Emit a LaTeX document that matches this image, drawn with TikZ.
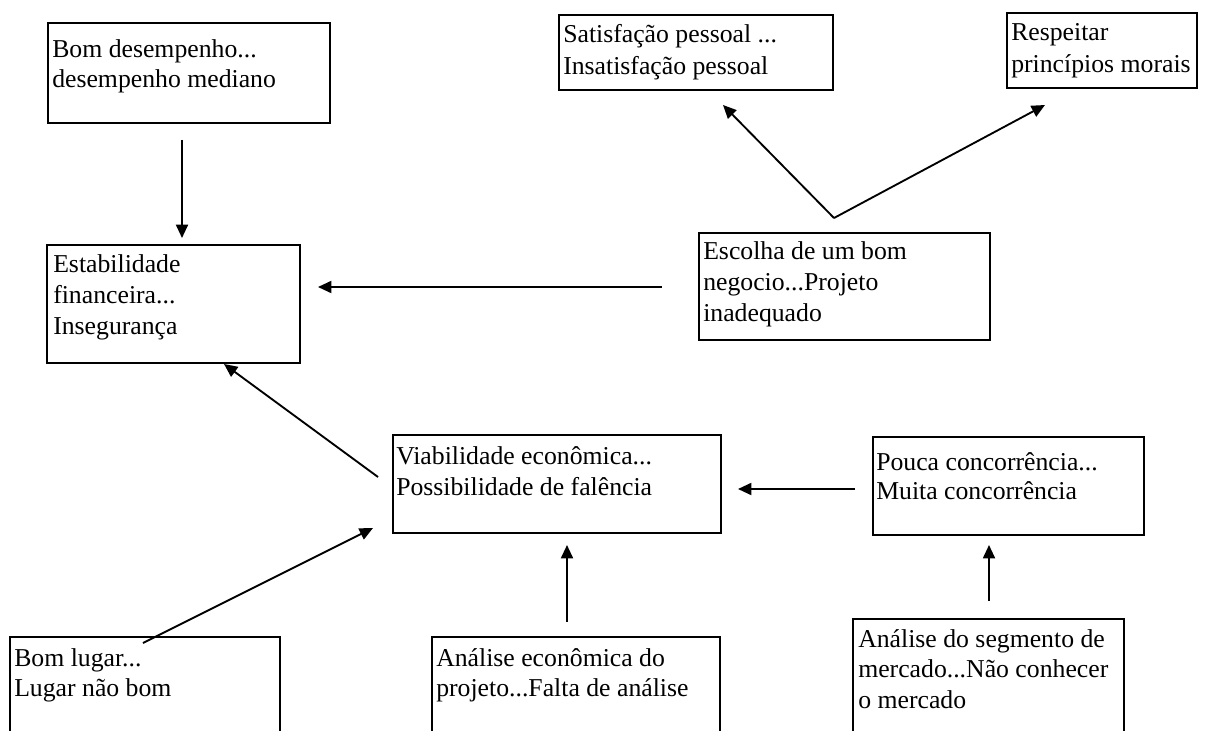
\documentclass[tikz,border=0pt]{standalone}
\usepackage{fontspec}
\setmainfont{Liberation Serif}
\usetikzlibrary{arrows.meta,fit}
\newcommand\mltext[2]{\parbox[t]{9cm}{\raggedright\setlength\baselineskip{#1}#2}}
\tikzset{
  box/.style={draw, line width=1.6pt, inner sep=0pt},
  lbl/.style={anchor=base west, inner sep=0pt, font=\fontsize{19.3}{23}\selectfont},
  conn/.style={line width=1.4pt, -{Triangle[length=10pt,width=9pt]}},
}
\begin{document}
\begin{tikzpicture}[x=0.75pt,y=-0.75pt]
\useasboundingbox (0,0) rectangle (1220,731);
\fill[white] (0,0) rectangle (1220,731);
% boxes
\node[box, fit={(48,23) (330,123)}] (b1) {};
\node[box, fit={(47,245) (300,363)}] (b2) {};
\node[box, fit={(559,15) (833,90)}] (b3) {};
\node[box, fit={(1007,13) (1197,88)}] (b4) {};
\node[box, fit={(699,233) (990,340)}] (b5) {};
\node[box, fit={(393,435) (721,533)}] (b6) {};
\node[box, fit={(873,437) (1144,535)}] (b7) {};
\node[box, fit={(10,637) (280,745)}] (b8) {};
\node[box, fit={(432,637) (720,745)}] (b9) {};
\node[box, fit={(853,619) (1124,745)}] (b10) {};
% texts
\node[lbl] (t1) at (52,58) {\mltext{22pt}{Bom desempenho...\\desempenho mediano}};
\node[lbl] (t2) at (53,272) {\mltext{23.6pt}{Estabilidade\\financeira...\\Insegurança}};
\node[lbl] (t3) at (563,43) {\mltext{24pt}{Satisfação pessoal ...\\Insatisfação pessoal}};
\node[lbl] (t4) at (1011,41) {\mltext{23.3pt}{Respeitar\\princípios morais}};
\node[lbl] (t5) at (703,259) {\mltext{23.6pt}{Escolha de um bom\\negocio...Projeto\\inadequado}};
\node[lbl] (t6) at (396,464) {\mltext{23.3pt}{Viabilidade econômica...\\Possibilidade de falência}};
\node[lbl] (t7) at (876,470) {\mltext{22pt}{Pouca concorrência...\\Muita concorrência}};
\node[lbl] (t8) at (14,666) {\mltext{22.5pt}{Bom lugar...\\Lugar não bom}};
\node[lbl] (t9) at (436,666) {\mltext{22.5pt}{Análise econômica do\\projeto...Falta de análise}};
\node[lbl] (t10) at (858,647) {\mltext{22.9pt}{Análise do segmento de\\mercado...Não conhecer\\o mercado}};
% connector ends
\coordinate (a1s) at (182,140);  \coordinate (a1e) at (182,238);
\coordinate (a2s) at (662,287);  \coordinate (a2e) at (318,287);
\coordinate (apx) at (834,218);
\coordinate (a3e) at (723,105);  \coordinate (a4e) at (1045,105);
\coordinate (a5s) at (378,477);  \coordinate (a5e) at (224,364);
\coordinate (a6s) at (143,643);  \coordinate (a6e) at (373,528);
\coordinate (a7s) at (567,622);  \coordinate (a7e) at (567,545);
\coordinate (a8s) at (989,601);  \coordinate (a8e) at (989,545);
\coordinate (a9s) at (855,489);  \coordinate (a9e) at (738,489);
% connectors
\draw[conn] (a1s) -- (a1e);
\draw[conn] (a2s) -- (a2e);
\draw[conn] (apx) -- (a3e);
\draw[conn] (apx) -- (a4e);
\draw[conn] (a5s) -- (a5e);
\draw[conn] (a6s) -- (a6e);
\draw[conn] (a7s) -- (a7e);
\draw[conn] (a8s) -- (a8e);
\draw[conn] (a9s) -- (a9e);
\end{tikzpicture}
\end{document}
